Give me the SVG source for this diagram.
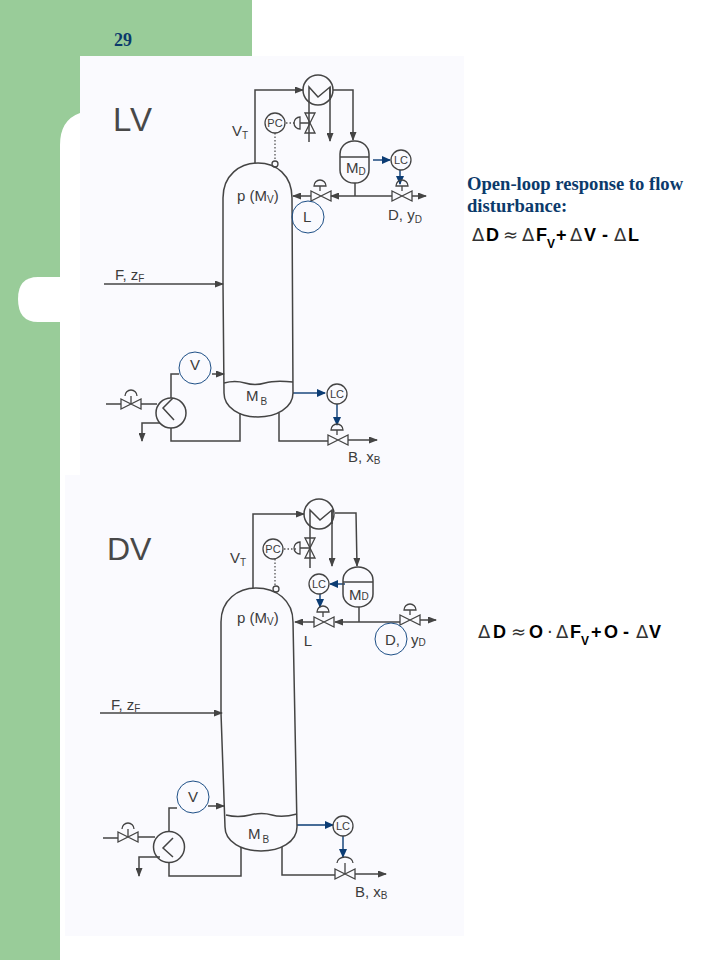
<svg xmlns="http://www.w3.org/2000/svg" width="720" height="960" viewBox="0 0 720 960">
<style>
.ln{fill:none;stroke:#444;stroke-width:1.5}
.ar{marker-end:url(#ah)}
.bl{fill:none;stroke:#0b3c74;stroke-width:1.4;marker-end:url(#ab)}
.dot{fill:none;stroke:#555;stroke-width:1.3;stroke-dasharray:1.5 2}
.ves{fill:none;stroke:#444;stroke-width:1.5}
.inst{fill:none;stroke:#444;stroke-width:1.3}
.sel{fill:none;stroke:#1d4f86;stroke-width:1}
.t{font-family:"Liberation Sans",Arial,sans-serif;fill:#3c3c3c;font-size:15px}
.s{font-size:10px}
.i{font-size:11px;text-anchor:middle}
.big{fill:#484848}
.h{font-family:"Liberation Serif","Times New Roman",serif;font-weight:bold;font-size:18.6px;fill:#0b3a6b}
.f{font-family:"Liberation Sans",Arial,sans-serif;font-weight:bold;font-size:18px;fill:#000}
.d{font-family:"DejaVu Sans",sans-serif;font-weight:normal;font-size:18px;fill:#333}
.sub{font-size:12px}
</style>
<defs>
<marker id="ah" markerWidth="9" markerHeight="7" refX="8" refY="3.5" orient="auto" markerUnits="userSpaceOnUse"><path d="M0 0L9 3.5L0 7z" fill="#444"/></marker>
<marker id="ab" markerWidth="9" markerHeight="8" refX="8" refY="4" orient="auto" markerUnits="userSpaceOnUse"><path d="M0 0L9 4L0 8z" fill="#0b3c74"/></marker>
<g id="vh"><path class="inst" d="M-10 -5L10 5V-5L-10 5z"/></g>
<g id="vv"><path class="inst" d="M-5 -10L5 10H-5L5 -10z"/></g>
<g id="ac"><path class="inst" d="M-6 0A6 6 0 0 1 6 0zM0 0V5"/></g>
</defs>

<g id="background">
<rect width="720" height="960" fill="#fff"/>
<path fill="#99cc99" d="M0 0H252V60H80V113Q60 120 60 145V960H0z"/>
<path fill="#fff" d="M60 277H38Q18 277 18 299Q18 322 38 322H60z"/>
<rect x="80" y="56" width="384" height="420" fill="#fafafe"/>
<rect x="65" y="475" width="399" height="461" fill="#fafafe"/>
</g>

<text id="page-number" x="114" y="46" style="font-family:'Liberation Serif',serif;font-weight:bold;font-size:18px;fill:#0b3a6b">29</text>

<g id="connectors">
<path class="ln ar" d="M255 163V90H303"/>
<path class="ln" d="M309 100V142"/>
<path class="ln ar" d="M330 87V141"/>
<path class="ln ar" d="M333 90H353V140"/>
<path class="ln" d="M355 183V196"/>
<path class="ln ar" d="M392 196H331"/>
<path class="ln ar" d="M311 196H293"/>
<path class="ln ar" d="M412 196H426"/>
<path class="ln ar" d="M104 284H223"/>
<path class="dot" d="M275 133V161"/>
<path class="dot" d="M286 123H296"/>
<path class="bl" d="M373 160H390"/>
<path class="bl" d="M400 170V184"/>
<path class="ln ar" d="M212 374H224"/>
<path class="ln" d="M179 374H171V398"/>
<path class="ln" d="M171 428V441H240V413"/>
<path class="ln" d="M279 413V441H328"/>
<path class="ln ar" d="M348 440H377"/>
<path class="ln" d="M106 404H121M141 404H157"/>
<path class="ln ar" d="M160 423H142V441"/>
<path class="bl" d="M293 393H325"/>
<path class="bl" d="M337 404V425"/>
<path class="ln ar" d="M253 588V514H304"/>
<path class="ln" d="M310 524V568"/>
<path class="ln ar" d="M332 510V566"/>
<path class="ln ar" d="M335 513H356L357 566"/>
<path class="ln" d="M359 607V622"/>
<path class="ln ar" d="M400 622H335"/>
<path class="ln ar" d="M314 622H295"/>
<path class="ln ar" d="M420 620H436"/>
<path class="ln ar" d="M100 713H222"/>
<path class="dot" d="M275 559V586"/>
<path class="dot" d="M284 549H296"/>
<path class="bl" d="M345 584H330"/>
<path class="bl" d="M320 594V607"/>
<path class="ln ar" d="M208 806H224"/>
<path class="ln" d="M177 808H169V832"/>
<path class="ln" d="M169 862V876H241V847"/>
<path class="ln" d="M282 847V875H335"/>
<path class="ln ar" d="M355 874H386"/>
<path class="ln" d="M103 838H118M138 837H155"/>
<path class="ln ar" d="M160 857H139V876"/>
<path class="bl" d="M297 825H333"/>
<path class="bl" d="M343 836V857"/>
</g>

<g id="lv-title"><text class="t big" x="113" y="131" style="font-size:33px;letter-spacing:1px">LV</text></g>
<g id="lv-column">
<path class="ves" d="M223 284V198C223 175 240 163 258 163C276 163 292 175 292 198L293 393C293 408 276 417 258 417C240 417 224 408 224 393z"/>
<path class="ves" d="M224 383Q235 380 245 383T265 383T293 382"/>
<text class="t" x="237" y="201">p (M<tspan class="s" dy="2">V</tspan><tspan dy="-2">)</tspan></text>
<text class="t" x="246" y="401">M<tspan class="s" dy="4" dx="2">B</tspan></text>
<circle class="inst" cx="275" cy="164" r="3"/>
</g>
<g id="lv-condenser"><circle class="ln" cx="318" cy="90" r="15"/><path class="ln" d="M309 100V87L318 97L330 87V100"/></g>
<g id="lv-drum"><rect class="ves" x="340" y="141" width="29" height="42" rx="14" ry="13"/><path class="ves" d="M340 157H369"/><text class="t" x="346" y="173">M<tspan class="s" dy="2">D</tspan></text></g>
<g id="lv-pc"><circle class="inst" cx="275" cy="123" r="10"/><text class="t i" x="275" y="127">PC</text></g>
<g id="lv-pc-valve"><use href="#vv" x="310" y="123"/><path class="inst" d="M300 117A6 6 0 0 0 300 129zM300 123H310"/></g>
<g id="lv-lc-top"><circle class="inst" cx="401" cy="160" r="10"/><text class="t i" x="401" y="164">LC</text></g>
<g id="lv-reflux-valve"><use href="#vh" x="321" y="196"/><use href="#ac" x="320" y="186"/></g>
<g id="lv-d-valve"><use href="#vh" x="402" y="196"/><use href="#ac" x="402" y="186"/></g>
<g id="lv-lc-bottom"><circle class="inst" cx="337" cy="394" r="10"/><text class="t i" x="337" y="398">LC</text></g>
<g id="lv-b-valve"><use href="#vh" x="338" y="440"/><use href="#ac" x="337" y="430"/></g>
<g id="lv-steam-valve"><use href="#vh" x="131" y="404"/><path class="inst" d="M125 396A6 6 0 0 1 137 396M131 396V404"/></g>
<g id="lv-reboiler"><circle class="ln" cx="171" cy="413" r="15"/><path class="ln" d="M173 398L163 408L174 420"/></g>
<g id="lv-selected-l"><circle class="sel" cx="308" cy="217" r="16"/><text class="t" x="303" y="222">L</text></g>
<g id="lv-selected-v"><circle class="sel" cx="195" cy="368" r="16"/><text class="t" x="190" y="370">V</text></g>
<g id="lv-labels">
<text class="t" x="232" y="136">V<tspan class="s" dy="3">T</tspan></text>
<text class="t" x="115" y="280">F, z<tspan class="s" dy="2">F</tspan></text>
<text class="t" x="388" y="220">D,  y<tspan class="s" dy="3">D</tspan></text>
<text class="t" x="348" y="462">B, x<tspan class="s" dy="2">B</tspan></text>
</g>

<g id="dv-title"><text class="t big" x="107" y="560" style="font-size:32px">DV</text></g>
<g id="dv-column">
<path class="ves" d="M221 713V622C221 600 238 588 256 588C276 588 293 600 293 622L297 827C297 842 280 851 261 851C242 851 225 842 225 827z"/>
<path class="ves" d="M226 815Q238 818 250 815T272 815T297 814"/>
<text class="t" x="237" y="623">p (M<tspan class="s" dy="2">V</tspan><tspan dy="-2">)</tspan></text>
<text class="t" x="248" y="839">M<tspan class="s" dy="4" dx="2">B</tspan></text>
<circle class="inst" cx="276" cy="589" r="3"/>
</g>
<g id="dv-condenser"><circle class="ln" cx="319" cy="514" r="15"/><path class="ln" d="M310 524V510L320 520L332 510V524"/></g>
<g id="dv-drum"><rect class="ves" x="343" y="567" width="30" height="40" rx="15" ry="13"/><path class="ves" d="M343 582H373"/><text class="t" x="349" y="600">M<tspan class="s">D</tspan></text></g>
<g id="dv-pc"><circle class="inst" cx="273" cy="549" r="10"/><text class="t i" x="273" y="553">PC</text></g>
<g id="dv-pc-valve"><use href="#vv" x="310" y="548"/><path class="inst" d="M300 542A6 6 0 0 0 300 554zM300 548H310"/></g>
<g id="dv-lc-top"><circle class="inst" cx="319" cy="584" r="10"/><text class="t i" x="319" y="588">LC</text></g>
<g id="dv-reflux-valve"><use href="#vh" x="324" y="622"/><use href="#ac" x="323" y="612"/></g>
<g id="dv-d-valve"><use href="#vh" x="410" y="620"/><use href="#ac" x="410" y="610"/></g>
<g id="dv-lc-bottom"><circle class="inst" cx="343" cy="826" r="10"/><text class="t i" x="343" y="830">LC</text></g>
<g id="dv-b-valve"><use href="#vh" x="345" y="874"/><path class="inst" d="M337 863A8 6 0 0 1 353 863M345 863V874"/></g>
<g id="dv-steam-valve"><use href="#vh" x="128" y="837"/><path class="inst" d="M122 829A6 6 0 0 1 134 829M128 829V837"/></g>
<g id="dv-reboiler"><circle class="ln" cx="169" cy="847" r="15.5"/><path class="ln" d="M173 838L163 848L173 857"/></g>
<g id="dv-selected-d"><circle class="sel" cx="391" cy="639" r="16"/><text class="t" x="385" y="645">D,</text></g>
<g id="dv-selected-v"><circle class="sel" cx="193" cy="797" r="16"/><text class="t" x="188" y="802">V</text></g>
<g id="dv-labels">
<text class="t" x="230" y="563">V<tspan class="s" dy="3">T</tspan></text>
<text class="t" x="111" y="710">F, z<tspan class="s" dy="2">F</tspan></text>
<text class="t" x="308" y="646" text-anchor="middle">L</text>
<text class="t" x="411" y="645">y<tspan class="s" dy="1">D</tspan></text>
<text class="t" x="355" y="897">B, x<tspan class="s" dy="2">B</tspan></text>
</g>

<g id="notes">
<text class="h" x="467" y="190">Open-loop response to flow</text>
<text class="h" x="467" y="212">disturbance:</text>
<text class="f" y="241"><tspan class="d" x="472">Δ</tspan><tspan x="486">D</tspan><tspan class="d" x="503">≈</tspan><tspan class="d" x="522">Δ</tspan><tspan x="536">F</tspan></text>
<text class="f sub" x="547" y="248">V</text>
<text class="f" y="241"><tspan x="556">+</tspan><tspan class="d" x="570">Δ</tspan><tspan x="584">V</tspan><tspan x="602">-</tspan><tspan class="d" x="614">Δ</tspan><tspan x="628">L</tspan></text>
<text class="f" y="638"><tspan class="d" x="478">Δ</tspan><tspan x="493">D</tspan><tspan class="d" x="511">≈</tspan><tspan x="529">O</tspan><tspan class="d" x="547">·</tspan><tspan class="d" x="556">Δ</tspan><tspan x="570">F</tspan></text>
<text class="f sub" x="581" y="645">V</text>
<text class="f" y="638"><tspan x="591">+</tspan><tspan x="604">O</tspan><tspan x="623">-</tspan><tspan class="d" x="636">Δ</tspan><tspan x="649">V</tspan></text>
</g>
</svg>
